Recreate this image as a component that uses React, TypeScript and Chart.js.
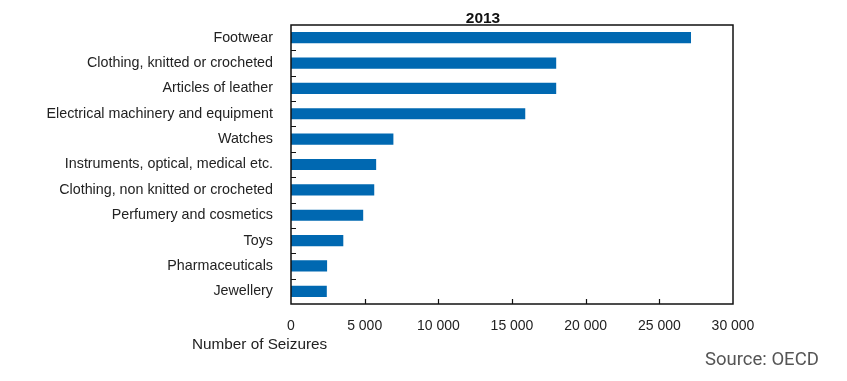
import React, { useEffect, useRef } from "react";
import { Chart, registerables } from "chart.js";

Chart.register(...registerables);

const categories = [
  "Footwear",
  "Clothing, knitted or crocheted",
  "Articles of leather",
  "Electrical machinery and equipment",
  "Watches",
  "Instruments, optical, medical etc.",
  "Clothing, non knitted or crocheted",
  "Perfumery and cosmetics",
  "Toys",
  "Pharmaceuticals",
  "Jewellery",
];
const seizures = [27150, 18000, 18000, 15900, 6950, 5780, 5650, 4900, 3550, 2450, 2430];
const xTicks = [0, 5000, 10000, 15000, 20000, 25000, 30000];
const title = "2013";
const axisTitle = "Number of Seizures";
const source = "Source: OECD";

const FONT = "'Liberation Sans', Arial, sans-serif";

const framePlugin = {
  id: "frame",
  afterDraw(chart: any) {
    const { ctx, chartArea } = chart;
    const { left, right, top, bottom } = chartArea;
    const xs = chart.scales.x;
    const ys = chart.scales.y;
    ctx.save();
    ctx.strokeStyle = "#111";
    ctx.lineWidth = 1.5;
    ctx.strokeRect(left, top, right - left, bottom - top);
    ctx.lineWidth = 1.2;
    ctx.beginPath();
    xTicks.slice(1, -1).forEach((v) => {
      const px = Math.round(xs.getPixelForValue(v)) + 0.5;
      ctx.moveTo(px, bottom);
      ctx.lineTo(px, bottom - 5);
    });
    for (let i = 1; i < categories.length; i++) {
      const py = (ys.getPixelForValue(i - 1) + ys.getPixelForValue(i)) / 2;
      ctx.moveTo(left, Math.round(py) + 0.5);
      ctx.lineTo(left + 5, Math.round(py) + 0.5);
    }
    ctx.stroke();
    ctx.fillStyle = "#111";
    ctx.textAlign = "center";
    ctx.textBaseline = "middle";
    ctx.font = `bold 15.5px ${FONT}`;
    ctx.fillText(title, left + 192, 19);
    ctx.textAlign = "left";
    ctx.font = `15.3px ${FONT}`;
    ctx.fillStyle = "#222";
    ctx.fillText(axisTitle, left - 99, 345);
    ctx.restore();
  },
};

export default function App() {
  const ref = useRef<HTMLCanvasElement>(null);
  useEffect(() => {
    document.body.style.margin = "0";
    const chart = new Chart(ref.current!, {
      type: "bar",
      data: {
        labels: categories,
        datasets: [
          {
            data: seizures,
            backgroundColor: "#0068B1",
            borderWidth: 0,
            barPercentage: 0.44,
            categoryPercentage: 1,
          },
        ],
      },
      options: {
        indexAxis: "y",
        animation: false,
        responsive: true,
        maintainAspectRatio: false,
        layout: { padding: { top: 25, right: 114, left: 0, bottom: 0 } },
        plugins: { legend: { display: false }, tooltip: { enabled: false }, title: { display: false } },
        scales: {
          x: {
            min: 0,
            max: 30000,
            afterBuildTicks: (s: any) => {
              s.ticks = xTicks.map((v) => ({ value: v }));
            },
            afterFit: (s: any) => {
              s.height = 77;
            },
            grid: { display: false },
            border: { display: false },
            ticks: {
              padding: 6,
              color: "#222",
              font: { family: FONT, size: 14 },
              maxRotation: 0,
              callback: (v: any) => {
                const n = Number(v);
                return n >= 1000 ? `${Math.floor(n / 1000)} ${String(n % 1000).padStart(3, "0")}` : String(n);
              },
            },
          },
          y: {
            afterFit: (s: any) => {
              s.width = 291;
            },
            grid: { display: false },
            border: { display: false },
            ticks: {
              padding: 10,
              color: "#222",
              font: { family: FONT, size: 14.3 },
              autoSkip: false,
            },
          },
        },
      },
      plugins: [framePlugin],
    });
    return () => chart.destroy();
  }, []);
  return (
    <div style={{ position: "fixed", left: 0, top: 0, width: 847, height: 381, background: "#fff" }}>
      <canvas ref={ref} />
      <div
        style={{
          position: "absolute",
          left: 705,
          top: 348,
          fontFamily: "Roboto, sans-serif",
          fontSize: 18.5,
          lineHeight: "22px",
          color: "#555",
          whiteSpace: "nowrap",
        }}
      >
        {source}
      </div>
    </div>
  );
}
